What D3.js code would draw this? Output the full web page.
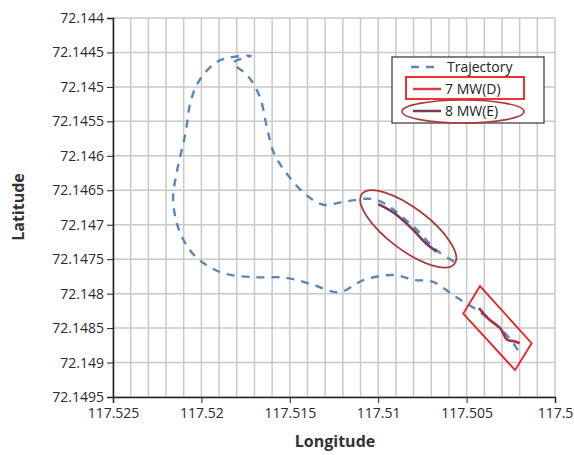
<!DOCTYPE html>
<html><head><meta charset="utf-8">
<script src="https://cdn.jsdelivr.net/npm/d3@7"></script>
<style>body{margin:0;background:#fff}</style></head>
<body><svg id="c" width="574" height="455"></svg>
<script>
const xTicks=[117.525,117.52,117.515,117.51,117.505,117.5];
const xTickLabels=["117.525","117.52","117.515","117.51","117.505","117.5"];
const yTicks=[72.144,72.1445,72.145,72.1455,72.146,72.1465,72.147,72.1475,72.148,72.1485,72.149,72.1495];
const trajLon=[117.5021,117.5025,117.5033,117.5044,117.5056,117.5069,117.5080,117.5091,117.5108,117.5122,117.5137,117.5152,117.5171,117.5188,117.5203,117.5212,117.5216,117.5214,117.5209,117.5206,117.5201,117.5192,117.5185,117.5172,117.5182,117.5174,117.5167,117.5163,117.5159,117.5152,117.5142,117.5131,117.5118,117.5101,117.5080,117.5067,117.5054];
const trajLat=[72.14882,72.14867,72.14846,72.14824,72.14805,72.14783,72.1478,72.14773,72.1478,72.14798,72.14787,72.14777,72.14776,72.1477,72.14747,72.14712,72.14664,72.14625,72.14567,72.14520,72.14490,72.14465,72.14458,72.14455,72.14465,72.14483,72.14514,72.14558,72.14596,72.14625,72.14654,72.14671,72.14666,72.14664,72.14703,72.14737,72.14758];
const eLon=[117.5100,117.5091,117.5080,117.5073,117.5067];
const eLat=[72.1467,72.14683,72.14708,72.14727,72.14739];
const dLon=[117.5043,117.5037,117.5031,117.5027,117.5023,117.5020];
const dLat=[72.14821,72.14838,72.1485,72.14867,72.14869,72.14872];
const seriesNames=["Trajectory","7 MW(D)","8 MW(E)"];

const svg=d3.select("#c");
const L=113,R=555,T=18,B=397;
const x=d3.scaleLinear().domain([117.525,117.5]).range([L,R]);
const y=d3.scaleLinear().domain([72.144,72.1495]).range([T,B]);
const font="'Open Sans', sans-serif";
svg.append("g").selectAll("line").data(d3.range(0,26)).join("line")
 .attr("x1",i=>x(117.525-i*0.001)).attr("x2",i=>x(117.525-i*0.001))
 .attr("y1",T).attr("y2",B).attr("stroke","#c9c9c9").attr("stroke-width",1.5);
svg.append("g").selectAll("line").data(yTicks).join("line")
 .attr("x1",L).attr("x2",R).attr("y1",d=>y(d)).attr("y2",d=>y(d)).attr("stroke","#c9c9c9").attr("stroke-width",1.5);
const ya=svg.append("g").attr("transform",`translate(${L},0)`).call(d3.axisLeft(y).tickValues(yTicks).tickFormat(d=>String(+d.toFixed(4))).tickSize(6).tickPadding(3));
const xa=svg.append("g").attr("transform",`translate(0,${B})`).call(d3.axisBottom(x).tickValues(xTicks).tickFormat((d,i)=>xTickLabels[i]).tickSize(6).tickPadding(5));
[ya,xa].forEach(a=>{a.select(".domain").attr("stroke","#222").attr("stroke-width",1.5);a.selectAll("line").attr("stroke","#222");a.selectAll("text").attr("font-family",font).attr("font-size",14).attr("fill","#2a2a2a");});
svg.append("text").attr("x",335).attr("y",447).attr("text-anchor","middle").attr("font-family",font).attr("font-weight","bold").attr("font-size",16).attr("fill","#333").text("Longitude");
svg.append("text").attr("transform","translate(24,207) rotate(-90)").attr("text-anchor","middle").attr("font-family",font).attr("font-weight","bold").attr("font-size",16).attr("fill","#333").text("Latitude");
const line=d3.line().x(d=>x(d[0])).y(d=>y(d[1])).curve(d3.curveCatmullRom);
svg.append("path").attr("d",line(d3.zip(trajLon,trajLat))).attr("fill","none").attr("stroke","#5b86b8").attr("stroke-width",2.4).attr("stroke-dasharray","8,7");
svg.append("path").attr("d",line(d3.zip(eLon,eLat))).attr("fill","none").attr("stroke","#7a3a55").attr("stroke-width",2.6);
svg.append("path").attr("d",line(d3.zip(dLon,dLat))).attr("fill","none").attr("stroke","#a8323f").attr("stroke-width",2.6);
const ec=[117.5083,72.14706];
svg.append("ellipse").attr("cx",0).attr("cy",0).attr("rx",58).attr("ry",21)
 .attr("transform",`translate(${x(ec[0])},${y(ec[1])}) rotate(37)`).attr("fill","none").attr("stroke","#b0383c").attr("stroke-width",1.8);
const rectLon=[117.50424,117.50132,117.50226,117.50519];
const rectLat=[72.14789,72.14872,72.14911,72.14829];
svg.append("polygon").attr("points",d3.zip(rectLon,rectLat).map(p=>x(p[0])+","+y(p[1])).join(" ")).attr("fill","none").attr("stroke","#ee1c1c").attr("stroke-width",1.8);
const lg=svg.append("g");
lg.append("rect").attr("x",392).attr("y",57).attr("width",152).attr("height",66).attr("fill","#fff").attr("stroke","#333").attr("stroke-width",1.2);
const cols=["#5b86b8","#d04048","#7a3a55"];
seriesNames.forEach((n,i)=>{
 const yy=67+i*22;
 lg.append("line").attr("x1",i==0?411:413).attr("x2",441).attr("y1",yy).attr("y2",yy).attr("stroke",cols[i]).attr("stroke-width",2.5).attr("stroke-dasharray",i==0?"8,7":null);
 lg.append("text").attr("x",i==0?447:445).attr("y",yy+5).attr("font-family",font).attr("font-size",14).attr("fill","#222").text(n);
});
lg.append("rect").attr("x",406).attr("y",77).attr("width",118).attr("height",22).attr("fill","none").attr("stroke","#ee1c1c").attr("stroke-width",1.8);
lg.append("ellipse").attr("cx",463).attr("cy",111.5).attr("rx",61).attr("ry",11.5).attr("fill","none").attr("stroke","#b0383c").attr("stroke-width",1.6);
</script></body></html>
